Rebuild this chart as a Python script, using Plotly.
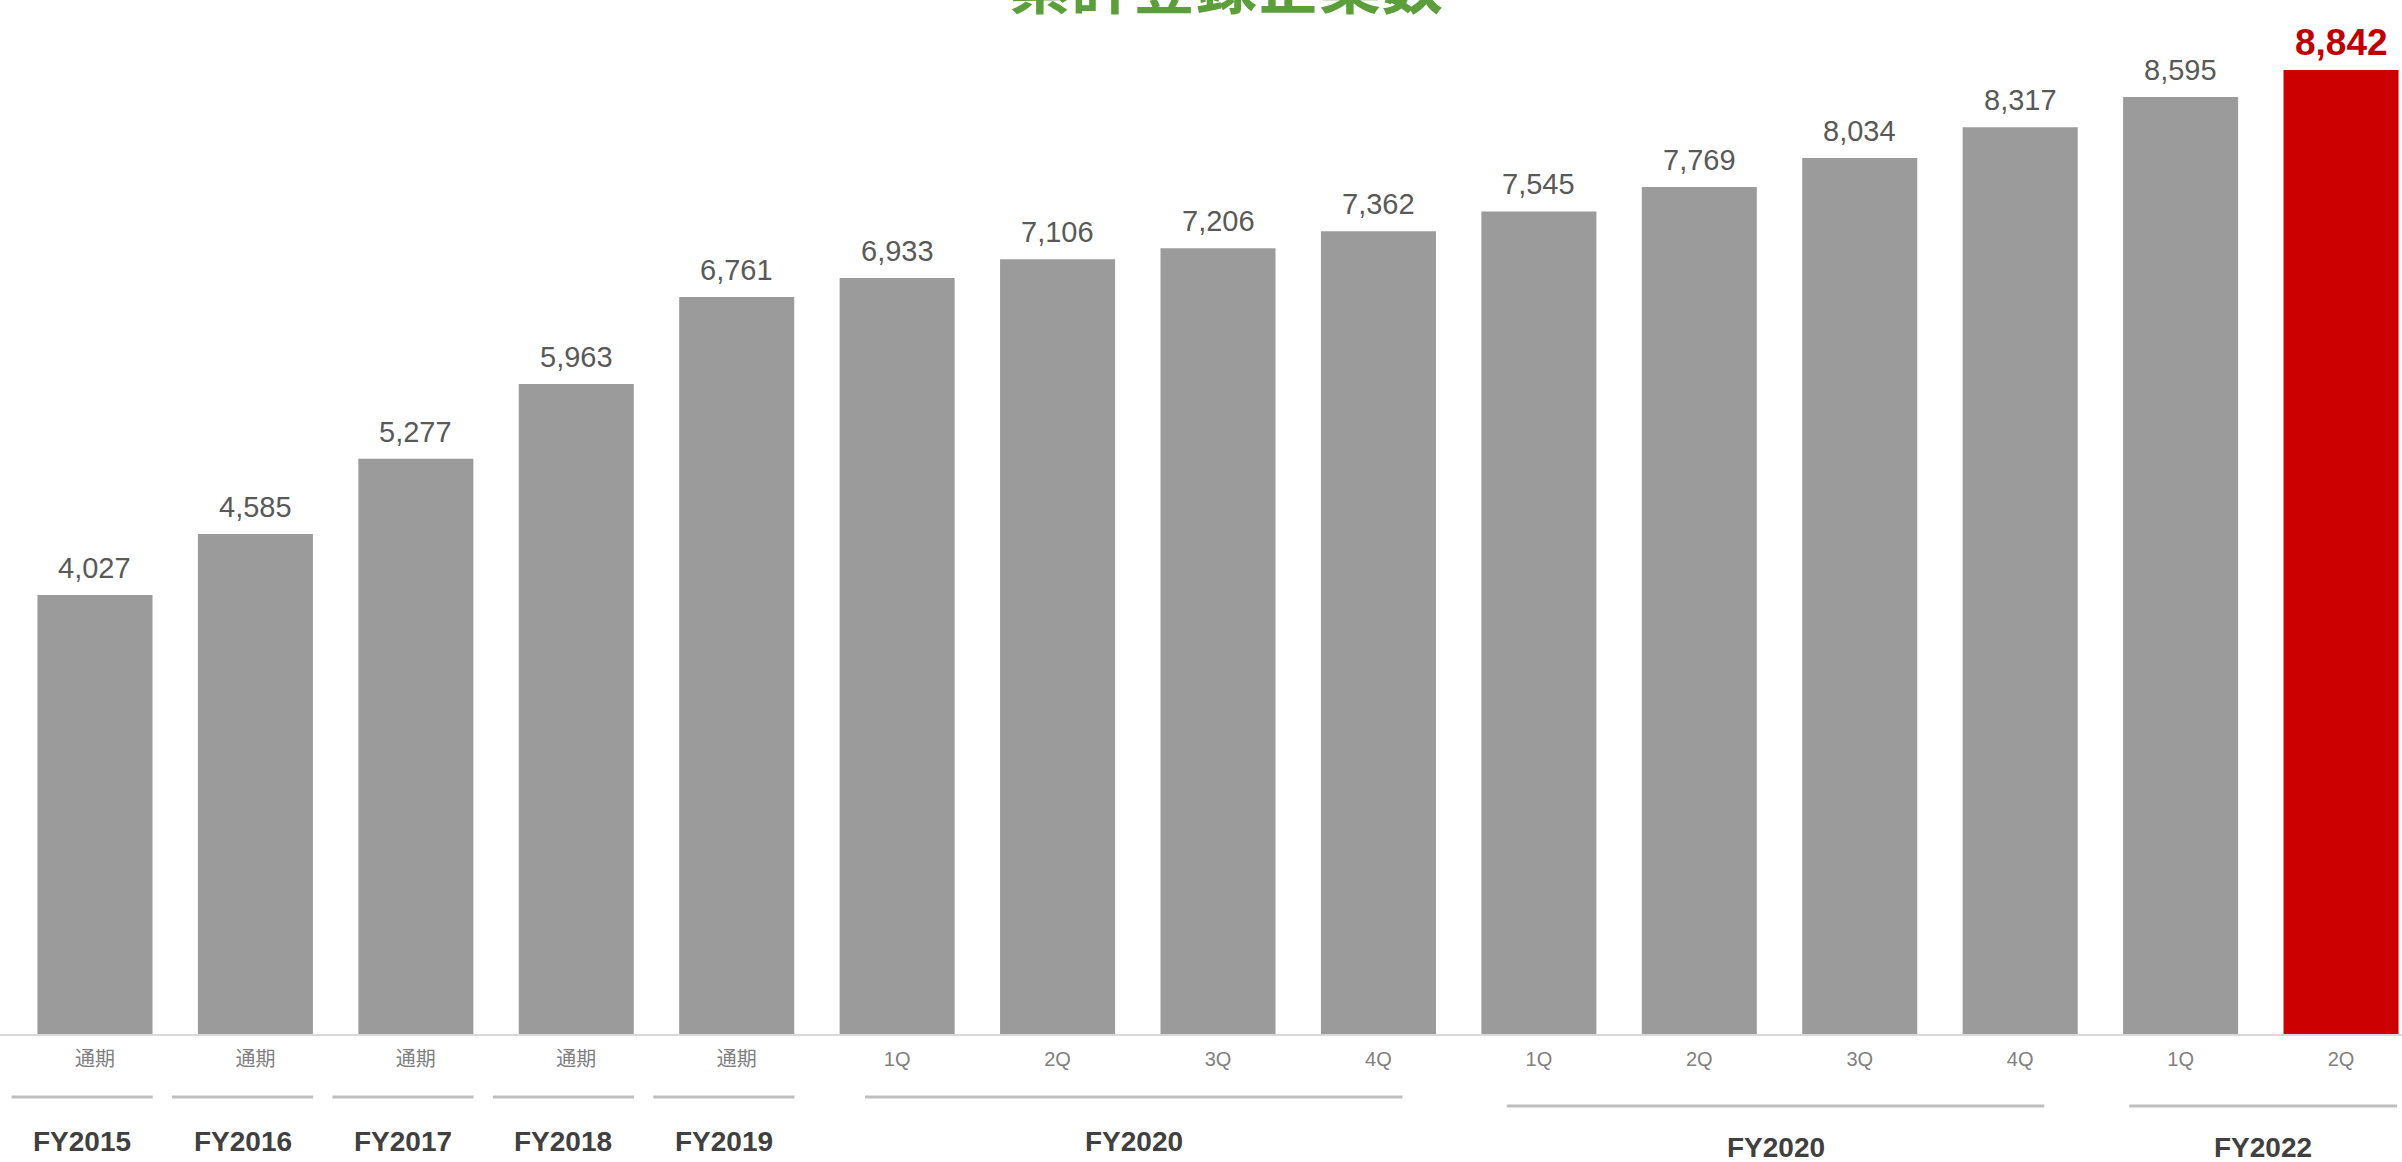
import plotly.graph_objects as go

# Valores del gráfico
VALORES = [4027, 4585, 5277, 5963, 6761, 6933, 7106, 7206, 7362, 7545, 7769, 8034, 8317, 8595, 8842]
ETIQUETAS = ["通期", "通期", "通期", "通期", "通期",
             "1Q", "2Q", "3Q", "4Q",
             "1Q", "2Q", "3Q", "4Q",
             "1Q", "2Q"]

# Grupos: (nombre, primera barra, última barra, fila)
GRUPOS = [
    ("FY2015", 0, 0, 1),
    ("FY2016", 1, 1, 1),
    ("FY2017", 2, 2, 1),
    ("FY2018", 3, 3, 1),
    ("FY2019", 4, 4, 1),
    ("FY2020", 5, 8, 1),
    ("FY2020", 9, 12, 2),
    ("FY2022", 13, 14, 2),
]

TITULO = "累計登録企業数"

GRIS = "#9B9B9B"
ROJO = "#CC0000"
W, H = 2402, 1162
BASE = 1034  # pixel de la línea base


def paper_y(px):
    return (BASE - px) / BASE


x = list(range(len(VALORES)))
colores = [GRIS] * (len(VALORES) - 1) + [ROJO]

fig = go.Figure()
fig.add_trace(
    go.Bar(
        x=x,
        y=VALORES,
        marker_color=colores,
        marker_line_width=0,
        hoverinfo="skip",
    )
)

annotations = []

# Etiquetas de valores sobre cada barra
for i, v in enumerate(VALORES):
    ultimo = i == len(VALORES) - 1
    annotations.append(
        dict(
            x=i,
            y=v,
            xref="x",
            yref="y",
            yanchor="bottom",
            yshift=5 if ultimo else 9,
            showarrow=False,
            text=f"<b>{v:,}</b>" if ultimo else f"{v:,}",
            font=dict(
                family="Liberation Sans, Arial, sans-serif",
                size=37 if ultimo else 29,
                color="#C00000" if ultimo else "#595959",
            ),
        )
    )

shapes = []
for nombre, a, b, fila in GRUPOS:
    if a == b:
        x0, x1 = a - 0.52, b + 0.36
    elif b - a == 1:
        x0, x1 = a - 0.32, b + 0.35
    else:
        x0, x1 = a - 0.2, b + 0.15
    y_linea = paper_y(1097 if fila == 1 else 1106)
    y_texto = paper_y(1141 if fila == 1 else 1147)
    shapes.append(
        dict(
            type="line",
            xref="x",
            yref="paper",
            x0=x0,
            x1=x1,
            y0=y_linea,
            y1=y_linea,
            line=dict(color="#BFBFBF", width=3),
        )
    )
    annotations.append(
        dict(
            x=(x0 + x1) / 2,
            y=y_texto,
            xref="x",
            yref="paper",
            yanchor="middle",
            showarrow=False,
            text=f"<b>{nombre}</b>",
            font=dict(
                family="Liberation Sans Narrow, Arial Narrow, Liberation Sans, sans-serif",
                size=28,
                color="#404040",
            ),
        )
    )

# Título (cortado en la parte superior)
annotations.append(
    dict(
        x=0.5104,
        y=paper_y(-18),
        xref="paper",
        yref="paper",
        yanchor="middle",
        showarrow=False,
        text=f"<b>{TITULO}</b>",
        font=dict(family="Noto Sans CJK JP", size=62, color="#5B9E3A"),
    )
)

fig.update_xaxes(
    range=[-0.592, 14.38],
    tickmode="array",
    tickvals=x,
    ticktext=ETIQUETAS,
    tickfont=dict(family="Liberation Sans, Noto Sans CJK JP", size=20, color="#808080"),
    ticks="",
    ticklabelstandoff=6,
    showline=True,
    linecolor="#D9D9D9",
    linewidth=2,
    showgrid=False,
    zeroline=False,
)

fig.update_yaxes(
    range=[0, 9484],
    visible=False,
    showgrid=False,
    zeroline=False,
)

fig.update_layout(
    width=W,
    height=H,
    bargap=0.283,
    showlegend=False,
    plot_bgcolor="#FFFFFF",
    paper_bgcolor="#FFFFFF",
    margin=dict(l=0, r=0, t=0, b=H - BASE),
    annotations=annotations,
    shapes=shapes,
)

# Quitamos el margen por defecto del body para que la figura empiece en (0, 0).
fig.write_html(
    "out.html",
    config={"displayModeBar": False},
    post_script="document.body.style.margin='0';document.body.style.overflow='hidden';",
)
